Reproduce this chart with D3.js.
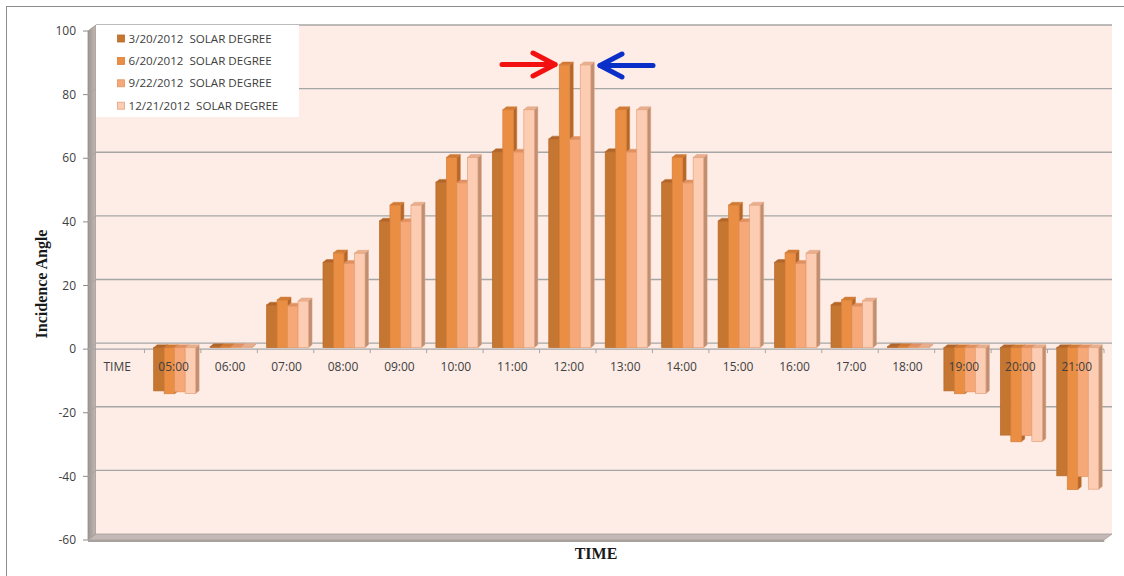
<!DOCTYPE html>
<html>
<head>
<meta charset="utf-8">
<script src="https://cdn.jsdelivr.net/npm/d3@7"></script>
<style>
  html, body { margin: 0; padding: 0; background: #fff; }
  svg { display: block; }
  text { white-space: pre; }
</style>
</head>
<body>
<svg id="chart" width="1124" height="576"></svg>
<script>
// Hourly categories (the first slot carries the axis caption only)
const categories = ["TIME", "05:00", "06:00", "07:00", "08:00", "09:00", "10:00", "11:00",
  "12:00", "13:00", "14:00", "15:00", "16:00", "17:00", "18:00", "19:00", "20:00", "21:00"];

const seriesNames = ["3/20/2012  SOLAR DEGREE", "6/20/2012  SOLAR DEGREE",
  "9/22/2012  SOLAR DEGREE", "12/21/2012  SOLAR DEGREE"];

// Solar incidence angle (degrees) per hour
const mar20 = [null, -13.6, 0.3, 13.4, 26.8, 39.8, 52.0, 61.6, 65.6, 61.6, 52.0, 39.8, 26.8, 13.4, 0.3, -13.6, -27.5, -40.3];
const jun20 = [null, -14.5, 0.3, 15.0, 29.8, 44.8, 59.8, 74.8, 88.9, 74.8, 59.8, 44.8, 29.8, 15.0, 0.3, -14.5, -29.6, -44.6];
const sep22 = [null, -13.9, 0.3, 13.1, 26.5, 39.6, 51.8, 61.5, 65.5, 61.5, 51.8, 39.6, 26.5, 13.1, 0.3, -13.9, -27.6, -40.5];
const dec21 = [null, -14.4, 0.3, 14.7, 29.7, 44.8, 59.8, 74.8, 88.9, 74.8, 59.8, 44.8, 29.7, 14.7, 0.3, -14.4, -29.5, -44.5];

const yTicks = [100, 80, 60, 40, 20, 0, -20, -40, -60];

const seriesValues = [mar20, jun20, sep22, dec21];

// face colours per series: front, top, side, edge
const palette = [
  { front: "#c57631", top: "#b0652a", side: "#9a5724", edge: "#b86a2c" },
  { front: "#e98e43", top: "#cf7a35", side: "#b3672b", edge: "#d77e38" },
  { front: "#f6a878", top: "#e09062", side: "#c98a66", edge: "#e2955f" },
  { front: "#fcccb3", top: "#e8b091", side: "#bf8f74", edge: "#e3a27c" }
];

const svg = d3.select("#chart");

// outer chart border
svg.append("rect")
  .attr("x", 6.5).attr("y", 6.5).attr("width", 1130).attr("height", 590)
  .attr("fill", "#fff").attr("stroke", "#8c8c8c").attr("stroke-width", 1);

// scales (front plane)
const x = d3.scaleBand().domain(categories).range([88, 1104]).paddingInner(0).paddingOuter(0);
const y = d3.scaleLinear().domain([-60, 100]).range([540, 31]);
const inner = d3.scaleBand().domain(d3.range(4)).range([0, 42]).padding(0);

// 3D offsets: wall depth and bar depth
const wallDx = 8, wallDy = -6;
const barShiftX = 2, barShiftY = -1.5;
const bdx = 3.5, bdy = 2.8;

const defs = svg.append("defs");
const sideGrad = defs.append("linearGradient").attr("id", "sideWall")
  .attr("x1", "0").attr("x2", "1").attr("y1", "0").attr("y2", "0");
sideGrad.append("stop").attr("offset", "0").attr("stop-color", "#9e9490");
sideGrad.append("stop").attr("offset", "1").attr("stop-color", "#c2b8b4");

const x0 = x.range()[0], x1 = x.range()[1];
const yTop = y(100), yBot = y(-60);

// side wall
svg.append("polygon")
  .attr("points", [[x0, yTop], [x0 + wallDx, yTop + wallDy], [x0 + wallDx, yBot + wallDy], [x0, yBot]].join(" "))
  .attr("fill", "url(#sideWall)").attr("stroke", "#9b918d").attr("stroke-width", 0.8);

// back wall
svg.append("rect")
  .attr("x", x0 + wallDx).attr("y", yTop + wallDy)
  .attr("width", x1 - x0).attr("height", yBot - yTop)
  .attr("fill", "#fdede6");

// floor
svg.append("polygon")
  .attr("points", [[x0, yBot], [x0 + wallDx, yBot + wallDy], [x1 + wallDx, yBot + wallDy], [x1, yBot]].join(" "))
  .attr("fill", "#c4b9b6").attr("stroke", "#a59c99").attr("stroke-width", 0.8);
svg.append("polygon")
  .attr("points", [[x0, yBot], [x1, yBot], [x1 + 0.5, yBot + 2], [x0, yBot + 2]].join(" "))
  .attr("fill", "#a8a09d");

// gridlines on back wall, continued across the side wall
const gridVals = yTicks.filter(v => v > -60);
const grid = svg.append("g");
gridVals.forEach(v => {
  grid.append("line")
    .attr("x1", x0 + wallDx).attr("x2", x1 + wallDx)
    .attr("y1", y(v) + wallDy).attr("y2", y(v) + wallDy)
    .attr("stroke", "#a6a6a6").attr("stroke-width", 1.3);
  if (v < 100) {
    grid.append("line")
      .attr("x1", x0).attr("x2", x0 + wallDx)
      .attr("y1", y(v)).attr("y2", y(v) + wallDy)
      .attr("stroke", "#a6a6a6").attr("stroke-width", 1);
  }
});

// value axis ticks and labels
const yAxis = svg.append("g");
yTicks.forEach(v => {
  yAxis.append("line")
    .attr("x1", x0 - 5).attr("x2", x0)
    .attr("y1", y(v)).attr("y2", y(v))
    .attr("stroke", "#8c8c8c").attr("stroke-width", 1);
  yAxis.append("text")
    .attr("x", 76).attr("y", y(v)).attr("dy", "0.35em")
    .attr("text-anchor", "end")
    .attr("font-family", "'Open Sans', sans-serif").attr("font-size", 12)
    .attr("fill", "#404040")
    .text(v);
});

// category axis at zero, with ticks between categories
const zeroY = y(0);
svg.append("line")
  .attr("x1", x0).attr("x2", x1).attr("y1", zeroY).attr("y2", zeroY)
  .attr("stroke", "#a6a6a6").attr("stroke-width", 1.3);
categories.forEach((c, i) => {
  if (i === 0) return;
  svg.append("line")
    .attr("x1", x(c)).attr("x2", x(c))
    .attr("y1", zeroY).attr("y2", zeroY + 4)
    .attr("stroke", "#a6a6a6").attr("stroke-width", 1);
});
svg.append("line")
  .attr("x1", x1).attr("x2", x1).attr("y1", zeroY).attr("y2", zeroY + 4)
  .attr("stroke", "#a6a6a6").attr("stroke-width", 1);

// 3D columns
const bars = svg.append("g");
categories.forEach((c, ci) => {
  seriesValues.forEach((vals, si) => {
    const v = vals[ci];
    if (v === null) return;
    const col = palette[si];
    const bx0 = x(c) + (x.bandwidth() - 42) / 2 + barShiftX + inner(si);
    const bx1 = bx0 + inner.bandwidth();
    const yv = y(v) + barShiftY, y0 = y(0) + barShiftY;
    const top = Math.min(yv, y0), bot = Math.max(yv, y0);
    const g = bars.append("g");
    g.append("polygon")
      .attr("points", [[bx1, top], [bx1 + bdx, top - bdy], [bx1 + bdx, bot - bdy], [bx1, bot]].join(" "))
      .attr("fill", col.side).attr("stroke", col.edge).attr("stroke-width", 0.5);
    g.append("rect")
      .attr("x", bx0).attr("y", top)
      .attr("width", bx1 - bx0).attr("height", Math.max(bot - top, 0.3))
      .attr("fill", col.front).attr("stroke", col.edge).attr("stroke-width", 0.7);
    g.append("polygon")
      .attr("points", [[bx0, top], [bx0 + bdx, top - bdy], [bx1 + bdx, top - bdy], [bx1, top]].join(" "))
      .attr("fill", col.top).attr("stroke", col.edge).attr("stroke-width", 0.5);
  });
});

// category labels
categories.forEach(c => {
  svg.append("text")
    .attr("x", x(c) + x.bandwidth() / 2 + 1).attr("y", 371)
    .attr("text-anchor", "middle")
    .attr("font-family", "'Open Sans', sans-serif").attr("font-size", 12)
    .attr("fill", "#404040")
    .text(c);
});

// legend
const legend = svg.append("g");
legend.append("rect")
  .attr("x", 96).attr("y", 25).attr("width", 203).attr("height", 92)
  .attr("fill", "#ffffff");
seriesNames.forEach((name, i) => {
  const cy = 38.5 + i * 22.4;
  legend.append("rect")
    .attr("x", 117.5).attr("y", cy - 3.5).attr("width", 7).attr("height", 7)
    .attr("fill", palette[i].front).attr("stroke", palette[i].edge).attr("stroke-width", 0.8);
  legend.append("text")
    .attr("x", 128.5).attr("y", cy).attr("dy", "0.36em")
    .attr("font-family", "'Open Sans', sans-serif").attr("font-size", 11.6)
    .attr("fill", "#404040")
    .text(name);
});

// arrows marking the noon peaks
function arrow(xs, xe, yy, headLen, headHalf, color) {
  const dir = Math.sign(xe - xs);
  const a = svg.append("g").attr("fill", "none").attr("stroke", color)
    .attr("stroke-width", 5).attr("stroke-linecap", "round").attr("stroke-linejoin", "round");
  a.append("line").attr("x1", xs).attr("x2", xe).attr("y1", yy).attr("y2", yy);
  a.append("polyline")
    .attr("points", [[xe - dir * headLen, yy - headHalf], [xe, yy], [xe - dir * headLen, yy + headHalf]].join(" "));
}
arrow(502, 555, 64.5, 22, 11.5, "#f21010");
arrow(653, 600, 65.5, 22, 11.5, "#0a2ec8");

// axis titles
svg.append("text")
  .attr("transform", "translate(47,284) rotate(-90)")
  .attr("text-anchor", "middle")
  .attr("font-family", "'Liberation Serif', 'Times New Roman', serif")
  .attr("font-weight", "bold").attr("font-size", 16)
  .attr("fill", "#1a1a1a")
  .text("Incidence Angle");

svg.append("text")
  .attr("x", 596).attr("y", 559)
  .attr("text-anchor", "middle")
  .attr("font-family", "'Liberation Serif', 'Times New Roman', serif")
  .attr("font-weight", "bold").attr("font-size", 16)
  .attr("fill", "#1a1a1a")
  .text("TIME");
</script>
</body>
</html>
